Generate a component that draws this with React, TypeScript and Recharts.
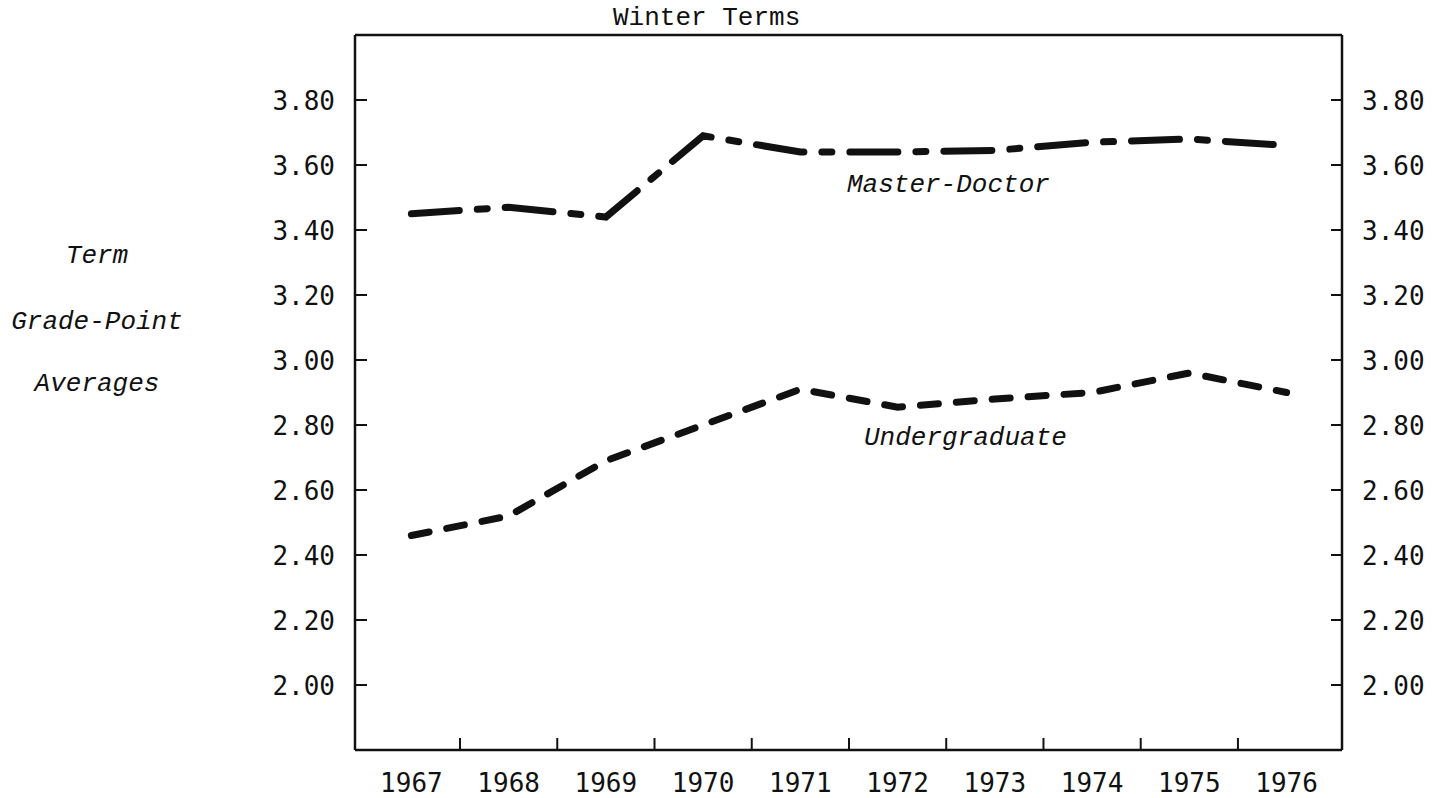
import { LineChart, Line, XAxis, YAxis } from 'recharts';

// Winter term grade-point averages
const years = [1967, 1968, 1969, 1970, 1971, 1972, 1973, 1974, 1975, 1976];
const masterDoctor = [3.45, 3.47, 3.44, 3.69, 3.64, 3.64, 3.645, 3.67, 3.68, 3.66];
const undergraduate = [2.46, 2.52, 2.69, 2.8, 2.91, 2.855, 2.88, 2.9, 2.96, 2.9];
const gpaTicks = [2.0, 2.2, 2.4, 2.6, 2.8, 3.0, 3.2, 3.4, 3.6, 3.8];

// tick marks sit between the years, labels sit on the years
const yearBounds = years.slice(1).map((y) => y - 0.5);
const bottomTicks = [...years, ...yearBounds].sort((a, b) => a - b);

const data = years.map((year, i) => ({
  year,
  masterDoctor: masterDoctor[i],
  undergraduate: undergraduate[i],
}));

const INK = '#111';
const NUM_FONT = '"DejaVu Sans Mono", monospace';
const TYPE_FONT = '"Liberation Mono", "Courier New", monospace';

const BottomTick = ({ x, y, payload }: any) => {
  const v = payload.value;
  if (Number.isInteger(v)) {
    return (
      <text x={x} y={y + 42} textAnchor="middle" fontFamily={NUM_FONT} fontSize={26} fill={INK}>
        {v}
      </text>
    );
  }
  return <line x1={x} y1={y} x2={x} y2={y - 12} stroke={INK} strokeWidth={2} />;
};

const TopTick = ({ x, y }: any) => (
  <line x1={x} y1={y} x2={x} y2={y + 15} stroke={INK} strokeWidth={2} />
);

const LeftTick = ({ x, y, payload }: any) => (
  <g>
    <line x1={x} y1={y} x2={x + 12} y2={y} stroke={INK} strokeWidth={2} />
    <text x={x - 20} y={y + 10} textAnchor="end" fontFamily={NUM_FONT} fontSize={26} fill={INK}>
      {payload.value.toFixed(2)}
    </text>
  </g>
);

const RightTick = ({ x, y, payload }: any) => (
  <g>
    <line x1={x} y1={y} x2={x - 11} y2={y} stroke={INK} strokeWidth={2} />
    <text x={x + 20} y={y + 10} textAnchor="start" fontFamily={NUM_FONT} fontSize={26} fill={INK}>
      {payload.value.toFixed(2)}
    </text>
  </g>
);

export default function App() {
  const xDomain = [1966.42, 1976.57];
  const yDomain = [1.8, 4.0];

  return (
    <div style={{ position: 'absolute', left: 0, top: 0, width: 1442, height: 798, background: '#fff' }}>
      <LineChart
        width={1442}
        height={798}
        data={data}
        margin={{ top: 0, right: 0, bottom: 0, left: 295 }}
      >
        <XAxis
          type="number"
          dataKey="year"
          domain={xDomain}
          ticks={bottomTicks}
          interval={0}
          height={48}
          tickSize={0}
          tickMargin={0}
          tick={<BottomTick />}
          axisLine={{ stroke: INK, strokeWidth: 2.5 }}
          allowDataOverflow
        />
        <XAxis
          xAxisId="top"
          orientation="top"
          type="number"
          domain={xDomain}
          ticks={yearBounds}
          interval={0}
          height={35}
          tickSize={0}
          tickMargin={0}
          tick={<TopTick />}
          axisLine={{ stroke: INK, strokeWidth: 2.5 }}
          allowDataOverflow
        />
        <YAxis
          domain={yDomain}
          ticks={gpaTicks}
          interval={0}
          width={60}
          tickSize={0}
          tickMargin={0}
          tick={<LeftTick />}
          axisLine={{ stroke: INK, strokeWidth: 2.5 }}
          allowDataOverflow
        />
        <YAxis
          yAxisId="right"
          orientation="right"
          domain={yDomain}
          ticks={gpaTicks}
          interval={0}
          width={100}
          tickSize={0}
          tickMargin={0}
          tick={<RightTick />}
          axisLine={{ stroke: INK, strokeWidth: 2.5 }}
          allowDataOverflow
        />
        <Line
          type="linear"
          dataKey="masterDoctor"
          stroke={INK}
          strokeWidth={7}
          strokeDasharray="48 18 10 18"
          strokeLinecap="round"
          dot={false}
          isAnimationActive={false}
        />
        <Line
          type="linear"
          dataKey="undergraduate"
          stroke={INK}
          strokeWidth={7}
          strokeDasharray="18 18"
          strokeLinecap="round"
          dot={false}
          isAnimationActive={false}
        />
      </LineChart>
      <svg
        width={1442}
        height={798}
        style={{ position: 'absolute', left: 0, top: 0, pointerEvents: 'none' }}
      >
        <text x={613} y={25} fontFamily={TYPE_FONT} fontSize={26} fill={INK}>
          Winter Terms
        </text>
        <g fontFamily={TYPE_FONT} fontSize={26} fontStyle="italic" fill={INK} textAnchor="middle">
          <text x={97} y={263}>Term</text>
          <text x={97} y={329}>Grade-Point</text>
          <text x={97} y={391}>Averages</text>
        </g>
        <g fontFamily={TYPE_FONT} fontSize={26} fontStyle="italic" fill={INK}>
          <text x={847} y={192}>Master-Doctor</text>
          <text x={864} y={445}>Undergraduate</text>
        </g>
      </svg>
    </div>
  );
}
